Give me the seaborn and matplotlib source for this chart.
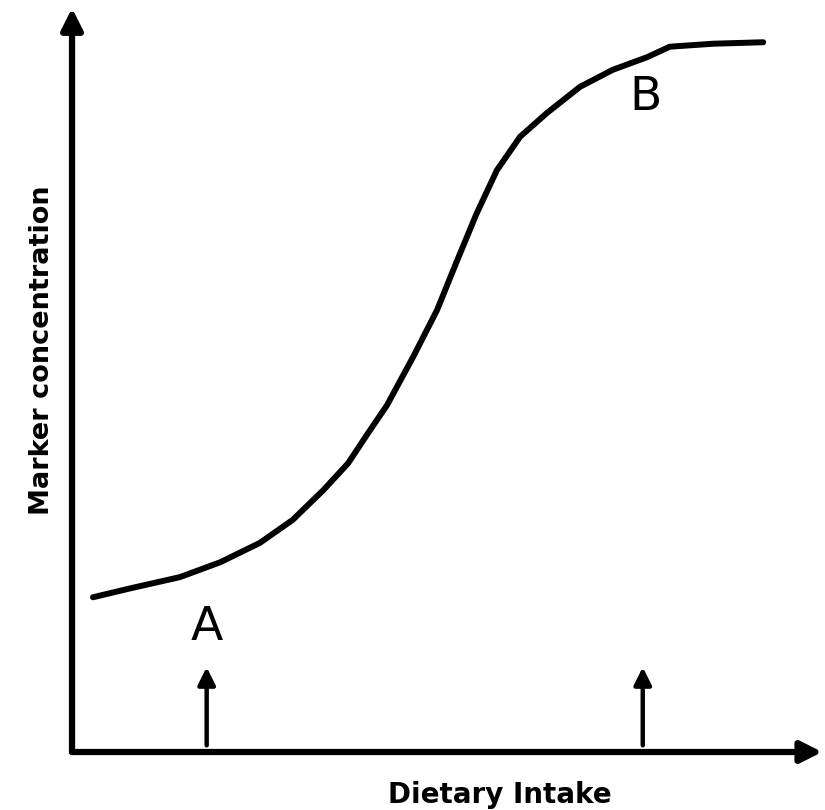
import matplotlib
matplotlib.use("Agg")
import numpy as np
import pandas as pd
import matplotlib.pyplot as plt
import seaborn as sns

sns.set_style("white")
plt.rcParams["font.family"] = ["DejaVu Sans"]
plt.rcParams["text.color"] = "black"
plt.rcParams["axes.labelcolor"] = "black"

# schematic dose-response curve (arbitrary units, 0-100 on both axes)
intake = [2.8, 7.8, 14.4, 19.8, 25.1, 29.5, 33.6, 36.9, 39.6, 42.1, 45.6, 48.8,
          51.5, 54.1, 56.8, 59.9, 63.5, 67.9, 72.3, 76.9, 79.9, 85.7, 92.4]
marker = [20.8, 22.0, 23.5, 25.5, 28.1, 31.2, 35.2, 38.8, 42.9, 46.6, 53.1, 59.4,
          66.1, 72.4, 78.2, 82.7, 85.9, 89.4, 91.7, 93.4, 94.8, 95.2, 95.4]

# reference points on the intake axis and their letters
ref_x = [18.0, 76.3]
letters = ["A", "B"]
letter_x = [18.0, 76.7]
letter_y = [16.8, 88.0]

df = pd.DataFrame({"intake": intake, "marker": marker})

fig = plt.figure(figsize=(8.25, 8.10), dpi=100)
ax = fig.add_axes([0.0873, 0.0716, 0.9067, 0.9185])

sns.lineplot(data=df, x="intake", y="marker", ax=ax, color="black",
             linewidth=4.3, solid_capstyle="round", solid_joinstyle="round")

ax.set_xlim(0, 100)
ax.set_ylim(0, 100)
ax.set_xticks([])
ax.set_yticks([])
for s in ax.spines.values():
    s.set_visible(False)

# axis arrows
arrow_kw = dict(arrowstyle="-|>", lw=4.5, color="black", mutation_scale=32,
                shrinkA=0, shrinkB=0)
ax.annotate("", xy=(0, 1), xytext=(0, 0), xycoords="axes fraction",
            textcoords="axes fraction", arrowprops=arrow_kw, annotation_clip=False)
ax.annotate("", xy=(1.003, 0), xytext=(0, 0), xycoords="axes fraction",
            textcoords="axes fraction", arrowprops=arrow_kw, annotation_clip=False)

# small reference arrows
small_kw = dict(arrowstyle="-|>", lw=3.2, color="black", mutation_scale=26,
                shrinkA=0, shrinkB=0)
for xv in ref_x:
    ax.annotate("", xy=(xv, 11.4), xytext=(xv, 0.9), arrowprops=small_kw)

for lt, lx, ly in zip(letters, letter_x, letter_y):
    ax.text(lx, ly, lt, fontsize=34, ha="center", va="center", color="black")

ax.set_xlabel("Dietary Intake", fontsize=20, fontweight="bold", va="center")
ax.set_ylabel("Marker concentration", fontsize=19.5, fontweight="bold", va="center")
ax.xaxis.set_label_coords(0.572, -0.058)
ax.yaxis.set_label_coords(-0.040, 0.540)

fig.savefig("out.png", dpi=100)
